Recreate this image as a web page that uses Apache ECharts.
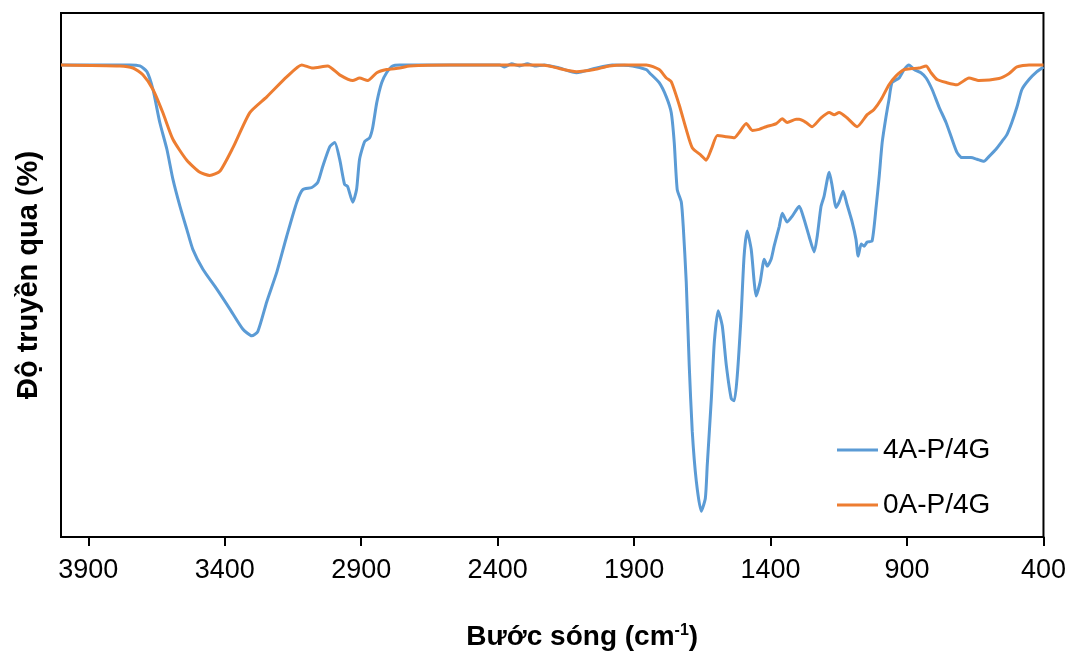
<!DOCTYPE html>
<html>
<head>
<meta charset="utf-8">
<script src="https://cdn.jsdelivr.net/npm/echarts@6/dist/echarts.min.js"></script>
<style>
  html, body { margin: 0; padding: 0; background: #fff; }
  #chart { width: 1069px; height: 656px; }
</style>
</head>
<body>
<div id="chart"></div>
<script>
const tickValues = [400, 900, 1400, 1900, 2400, 2900, 3400, 3900]
const seriesNames = ['4A-P/4G', '0A-P/4G']

// [wavenumber (cm-1), transmittance]
const sample4A = [
  [4000, 90.1], [3857, 90.1], [3747, 90.1], [3711, 89.9], [3685, 88.8], [3663, 85.4], [3638, 79.1],
  [3612, 74.0], [3590, 68.3], [3564, 63.1], [3539, 58.7], [3517, 54.9], [3480, 51.1], [3429, 47.3],
  [3381, 43.5], [3334, 39.7], [3301, 38.4], [3279, 39.2], [3246, 44.9], [3209, 50.6], [3173, 57.4],
  [3136, 63.9], [3114, 66.3], [3081, 66.7], [3059, 67.7], [3041, 70.7], [3015, 74.5], [2997, 75.3],
  [2979, 72.1], [2961, 67.3], [2950, 66.9], [2931, 63.9], [2917, 66.3], [2906, 72.1], [2887, 75.5],
  [2869, 76.2], [2858, 78.1], [2843, 82.9], [2825, 86.7], [2807, 88.6], [2785, 89.9], [2759, 90.1],
  [2576, 90.1], [2393, 90.1], [2375, 89.7], [2349, 90.3], [2320, 89.9], [2291, 90.3], [2265, 89.9],
  [2229, 90.1], [2174, 89.5], [2111, 88.6], [2046, 89.4], [1980, 90.1], [1906, 89.9], [1855, 89.2],
  [1844, 88.6], [1808, 86.7], [1782, 84.0], [1764, 81.0], [1753, 75.3], [1742, 66.3], [1727, 63.9],
  [1720, 59.3], [1709, 48.7], [1698, 32.7], [1687, 20.2], [1672, 10.6], [1654, 4.9], [1639, 7.4],
  [1632, 13.7], [1617, 26.4], [1606, 37.3], [1592, 43.2], [1577, 40.3], [1562, 32.7], [1544, 26.4],
  [1533, 26.0], [1522, 30.8], [1508, 42.2], [1497, 53.6], [1486, 58.4], [1471, 54.9], [1460, 48.7],
  [1453, 46.0], [1438, 48.7], [1423, 53.0], [1412, 51.7], [1398, 53.0], [1387, 55.5], [1368, 59.3],
  [1357, 61.8], [1339, 60.1], [1321, 61.2], [1295, 63.1], [1277, 60.6], [1259, 57.4], [1240, 54.4],
  [1229, 57.4], [1215, 63.1], [1204, 65.0], [1185, 69.6], [1174, 66.9], [1160, 62.9], [1149, 63.9],
  [1134, 66.0], [1120, 63.5], [1101, 60.1], [1087, 56.8], [1079, 53.6], [1068, 55.9], [1057, 55.5],
  [1046, 56.3], [1028, 56.5], [1013, 63.1], [1002, 68.8], [991, 75.3], [977, 80.2], [966, 83.5],
  [955, 86.7], [929, 87.6], [911, 89.2], [893, 90.1], [874, 89.2], [849, 88.6], [830, 87.6],
  [808, 85.4], [783, 82.1], [757, 79.1], [735, 75.9], [717, 73.4], [699, 72.4], [666, 72.4],
  [644, 72.1], [618, 71.7], [600, 72.6], [574, 74.0], [552, 75.5], [534, 76.8], [516, 79.1],
  [497, 82.1], [479, 85.4], [453, 87.3], [424, 88.8], [400, 89.7]
]

const sample0A = [
  [4000, 90.1], [3784, 89.9], [3736, 89.5], [3700, 88.2], [3663, 85.4], [3627, 81.0], [3590, 75.9],
  [3539, 71.9], [3491, 69.6], [3455, 69.0], [3418, 69.8], [3370, 74.3], [3308, 81.0], [3246, 84.0],
  [3173, 87.8], [3118, 90.1], [3078, 89.5], [3023, 89.9], [2979, 88.2], [2931, 87.1], [2906, 87.6],
  [2876, 87.1], [2843, 88.6], [2807, 89.2], [2759, 89.5], [2723, 89.9], [2576, 90.1], [2247, 90.1],
  [2210, 89.9], [2174, 89.4], [2111, 88.8], [2046, 89.2], [1991, 89.9], [1936, 90.1], [1855, 90.1],
  [1808, 89.2], [1782, 87.6], [1764, 86.9], [1735, 82.5], [1709, 77.8], [1687, 74.3], [1654, 72.8],
  [1636, 71.9], [1617, 74.0], [1595, 76.6], [1562, 76.4], [1533, 76.2], [1515, 77.2], [1489, 78.9],
  [1467, 77.6], [1442, 77.8], [1416, 78.3], [1379, 78.9], [1357, 79.8], [1339, 79.1], [1306, 79.7],
  [1295, 79.7], [1270, 79.1], [1248, 78.3], [1215, 80.0], [1185, 81.0], [1167, 80.6], [1149, 81.0],
  [1120, 80.0], [1083, 78.3], [1046, 80.6], [1021, 81.6], [995, 83.5], [966, 86.3], [940, 88.0],
  [911, 89.2], [882, 89.4], [856, 89.5], [830, 89.9], [812, 88.6], [790, 87.3], [754, 86.7],
  [717, 86.3], [673, 87.6], [636, 87.1], [563, 87.5], [527, 88.4], [497, 89.7], [453, 90.1],
  [400, 90.1]
]

const fontName = '"Liberation Sans", Arial, sans-serif'
const colors = ['#5B9BD5', '#ED7D31']

const getOptionSpectrum = () => {
  let seriesData = [sample4A, sample0A].map((data, i) => ({
    name: seriesNames[i],
    type: 'line',
    data: data,
    symbol: 'none',
    smooth: 0.2,
    lineStyle: { color: colors[i], width: 3 },
    itemStyle: { color: colors[i] }
  }))

  return {
    animation: false,
    textStyle: { fontFamily: fontName },
    grid: {
      left: 61,
      right: 24,
      top: 13,
      bottom: 117,
      show: true,
      borderColor: '#000',
      borderWidth: 2
    },
    legend: {
      orient: 'vertical',
      left: 837,
      top: 435,
      padding: 0,
      icon: 'rect',
      itemWidth: 41,
      itemHeight: 3,
      itemGap: 25,
      textStyle: { fontSize: 28, color: '#000', lineHeight: 30, fontFamily: fontName },
      data: seriesNames
    },
    xAxis: {
      type: 'value',
      inverse: true,
      min: 400,
      max: 4000,
      name: 'Bước sóng (cm{sup|-1})',
      nameLocation: 'middle',
      nameGap: 86,
      nameTextStyle: {
        fontSize: 28,
        fontWeight: 'bold',
        color: '#000',
        padding: [0, 0, 0, 60],
        rich: {
          sup: { fontSize: 16, fontWeight: 'bold', verticalAlign: 'top', padding: [0, 0, 12, 0] }
        }
      },
      axisLine: { show: true, lineStyle: { color: '#000', width: 2 } },
      axisTick: { show: true, inside: false, length: 9, customValues: tickValues, lineStyle: { color: '#000', width: 2 } },
      axisLabel: {
        customValues: tickValues,
        fontSize: 27,
        color: '#000',
        margin: 20,
        formatter: (v) => String(v)
      },
      splitLine: { show: false }
    },
    yAxis: {
      type: 'value',
      min: 0,
      max: 100,
      name: 'Độ truyền qua (%)',
      nameLocation: 'middle',
      nameGap: 18,
      nameTextStyle: { fontSize: 29, fontWeight: 'bold', color: '#000' },
      axisLine: { show: true, lineStyle: { color: '#000', width: 2 } },
      axisTick: { show: false },
      axisLabel: { show: false },
      splitLine: { show: false }
    },
    series: seriesData
  }
}

const chart = echarts.init(document.getElementById('chart'))
chart.setOption(getOptionSpectrum())
</script>
</body>
</html>
